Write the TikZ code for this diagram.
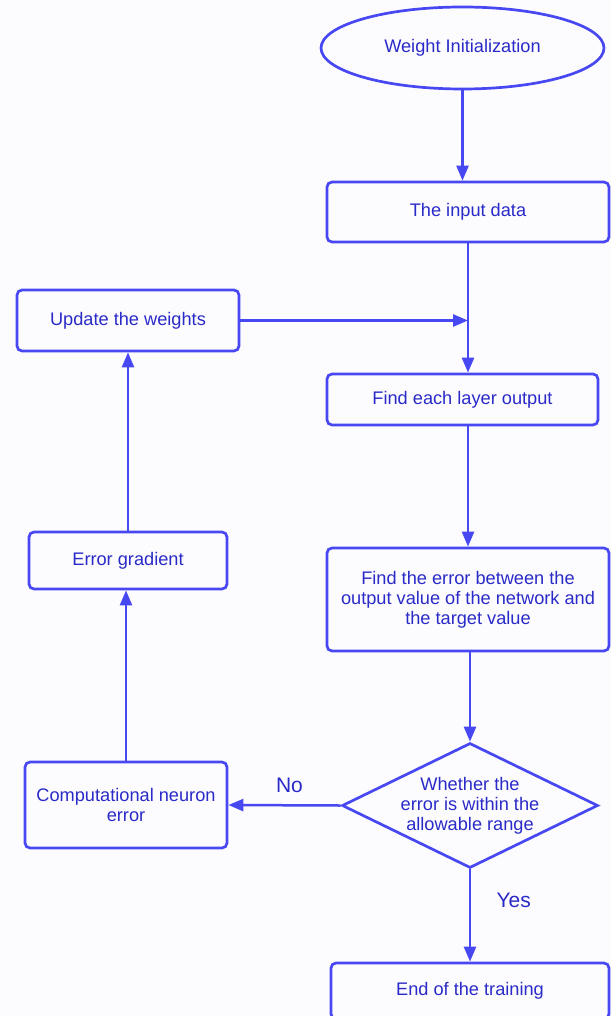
\documentclass[tikz,border=0pt]{standalone}
\usepackage{fontspec}
\setmainfont{Liberation Sans}
\usetikzlibrary{shapes.geometric,arrows.meta}
\definecolor{lc}{HTML}{4848F2}
\definecolor{tc}{HTML}{2A2AC8}
\definecolor{bg}{HTML}{FCFCFF}
\begin{document}
\begin{tikzpicture}[x=1pt,y=-1pt,
 box/.style={draw=lc,line width=2.7pt,rounded corners=5pt,text=tc,align=center,inner sep=0pt,font=\fontsize{18.2}{20}\selectfont},
 arr/.style={draw=lc,line width=2.5pt,-{Triangle[length=15pt,width=12pt]}},
 lbl/.style={text=tc,font=\fontsize{21}{24}\selectfont}]
\fill[bg] (0,0) rectangle (611,1016);
\useasboundingbox (0,0) rectangle (611,1016);
\node[box,ellipse,sharp corners,minimum width=283pt,minimum height=82pt] (wi) at (462.5,48) {Weight Initialization};
\node[box,minimum width=282pt,minimum height=60pt] (in) at (468,212) {The input data};
\node[box,minimum width=222pt,minimum height=61pt] (up) at (128,320.5) {Update the weights};
\node[box,minimum width=271pt,minimum height=51pt] (fl) at (462.5,399.5) {Find each layer output};
\node[box,minimum width=282pt,minimum height=103pt] (fe) at (468,599.5) {Find the error between the\\output value of the network and\\the target value};
\node[box,diamond,sharp corners,aspect=2.05,minimum width=256pt,minimum height=125pt] (wh) at (470,805.5) {Whether the\\error is within the\\allowable range};
\node[box,minimum width=278pt,minimum height=56pt] (end) at (470,991) {End of the training};
\node[box,minimum width=202pt,minimum height=86pt] (cn) at (126,805) {Computational neuron\\error};
\node[box,minimum width=198pt,minimum height=57pt] (eg) at (128,560.5) {Error gradient};
\draw[arr] (wi.south) -- (wi.south |- in.north);
\draw[arr] (in.south) -- (in.south |- fl.north);
\coordinate (j) at (in.south |- up.east);
\draw[arr] (up.east) -- (j);
\draw[arr] (fl.south -| fe.north) -- (fe.north);
\draw[arr] (fe.south -| wh.north) -- (wh.north);
\draw[arr] (wh.south) -- (wh.south |- end.north) node[lbl,pos=0.34,anchor=west,xshift=22pt] {Yes};
\draw[arr] (wh.west) -- (cn.east) node[lbl,midway,anchor=south,yshift=8pt,xshift=5pt] {No};
\draw[arr] (cn.north) -- (cn.north |- eg.south);
\draw[arr] (eg.north) -- (eg.north |- up.south);
\end{tikzpicture}
\end{document}
